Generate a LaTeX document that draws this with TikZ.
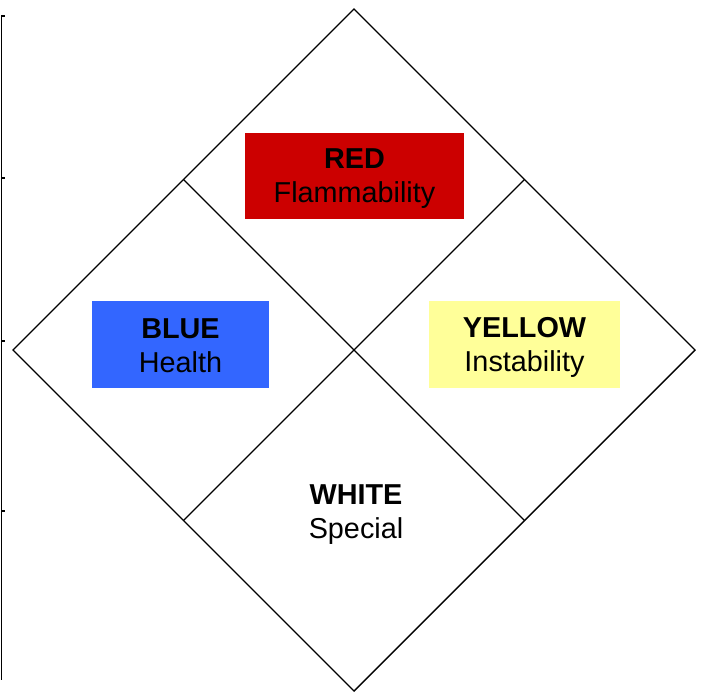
\documentclass[tikz,border=0pt]{standalone}
\usepackage{fontspec}
\setmainfont{Liberation Sans}
\usetikzlibrary{calc}
\definecolor{hzred}{HTML}{CC0000}
\definecolor{hzblue}{HTML}{3366FF}
\definecolor{hzyellow}{HTML}{FFFF99}
\begin{document}
\begin{tikzpicture}[x=1pt,y=-1pt,
  edge/.style={line width=1.4pt,black},
  label box/.style={inner sep=0pt,align=center,font=\fontsize{28.8}{34}\selectfont},
  axisline/.style={line width=1.8pt,black}]
\useasboundingbox (0,0) rectangle (701,692);
% diamond corners
\coordinate (T) at (354,9);
\coordinate (R) at (695,350);
\coordinate (B) at (354,691);
\coordinate (L) at (13,350);
% edge midpoints
\coordinate (TL) at ($(T)!0.5!(L)$);
\coordinate (TR) at ($(T)!0.5!(R)$);
\coordinate (BL) at ($(B)!0.5!(L)$);
\coordinate (BR) at ($(B)!0.5!(R)$);
\draw[edge,line join=miter] (T) -- (R) -- (B) -- (L) -- cycle;
\draw[edge] (TL) -- (BR);
\draw[edge] (TR) -- (BL);
% left axis line with ticks
\coordinate (A0) at (1.5,16);
\coordinate (A1) at (1.5,680);
\draw[axisline] (A0) -- (A1);
\foreach \yy in {16,178,341,511}{
  \draw[line width=1.4pt] (1,\yy) -- (4.5,\yy);
}
% coloured boxes
\fill[hzred] (245,133) rectangle (464,219);
\fill[hzblue] (92,301) rectangle (269,388);
\fill[hzyellow] (429,301) rectangle (620,388);
\node[label box] (red) at (354.5,179) {\textbf{RED}\\Flammability};
\node[label box] (blue) at (180.5,346) {\textbf{BLUE}\\Health};
\node[label box] (yellow) at (524.5,347) {\textbf{YELLOW}\\Instability};
\node[label box] (white) at (356,515) {\textbf{WHITE}\\Special};
\end{tikzpicture}
\end{document}
